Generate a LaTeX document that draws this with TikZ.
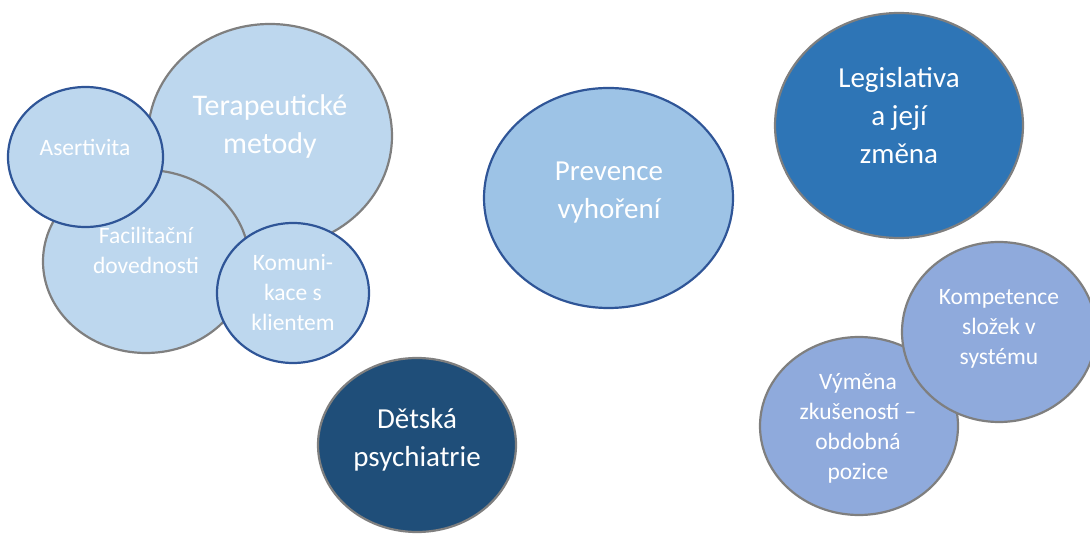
\documentclass[tikz,border=0pt]{standalone}
\usepackage{fontspec}
\setmainfont{Carlito}
\usetikzlibrary{shapes.geometric}
\definecolor{lightfill}{HTML}{BDD7EE}
\definecolor{midfill}{HTML}{9DC3E6}
\definecolor{legfill}{HTML}{2E75B6}
\definecolor{darkfill}{HTML}{1F4E79}
\definecolor{lavfill}{HTML}{8FAADC}
\definecolor{grayline}{HTML}{7F7F7F}
\definecolor{blueline}{HTML}{2F5597}
\tikzset{
  bubble/.style={ellipse, inner sep=0pt, line width=2.2pt},
  graybub/.style={bubble, draw=grayline},
  bluebub/.style={bubble, draw=blueline},
  bigtxt/.style={text=white, align=center, inner sep=0pt, font=\fontsize{29}{38}\selectfont},
  smalltxt/.style={text=white, align=center, inner sep=0pt, font=\fontsize{23.5}{30}\selectfont},
}
\begin{document}
\begin{tikzpicture}[x=1pt,y=-1pt]
\useasboundingbox (0,0) rectangle (1090,534);
% left cluster
\node[graybub, fill=lightfill, minimum width=244pt, minimum height=224pt] (ter) at (270,136) {};
\node[graybub, fill=lightfill, minimum width=206pt, minimum height=183pt] (fac) at (146,261.5) {};
\node[bluebub, fill=lightfill, minimum width=155pt, minimum height=140pt] (ase) at (85.5,157) {};
\node[bluebub, fill=lightfill, minimum width=152pt, minimum height=140pt] (kom) at (293,293) {};
\node[bigtxt, font=\fontsize{30}{38}\selectfont] (tert) at (270,127) {Terapeutické\\metody};
\node[smalltxt] (aset) at (85,147) {Asertivita};
\node[smalltxt] (fact) at (146,250) {Facilitační\\dovednosti};
\node[smalltxt] (komt) at (293,293) {Komuni-\\kace s\\klientem};
% prevence
\node[bluebub, fill=midfill, minimum width=249pt, minimum height=220pt] (pre) at (608.5,198) {};
\node[bigtxt] (pret) at (609,193) {Prevence\\vyhoření};
% legislativa
\node[graybub, fill=legfill, minimum width=248pt, minimum height=225pt] (leg) at (899,125.5) {};
\node[bigtxt] (legt) at (899,116) {Legislativa\\a její\\změna};
% detska
\node[graybub, fill=darkfill, minimum width=198pt, minimum height=174pt] (det) at (417,445) {};
\node[bigtxt] (dett) at (417,440) {Dětská\\psychiatrie};
% right cluster
\node[graybub, fill=lavfill, minimum width=198pt, minimum height=178pt] (vym) at (859,426) {};
\node[graybub, fill=lavfill, minimum width=194pt, minimum height=180pt] (kmp) at (999,332) {};
\node[smalltxt] (vymt) at (858,428.5) {Výměna\\zkušeností –\\obdobná\\pozice};
\node[smalltxt] (kmpt) at (999,329) {Kompetence\\složek v\\systému};
\end{tikzpicture}
\end{document}
